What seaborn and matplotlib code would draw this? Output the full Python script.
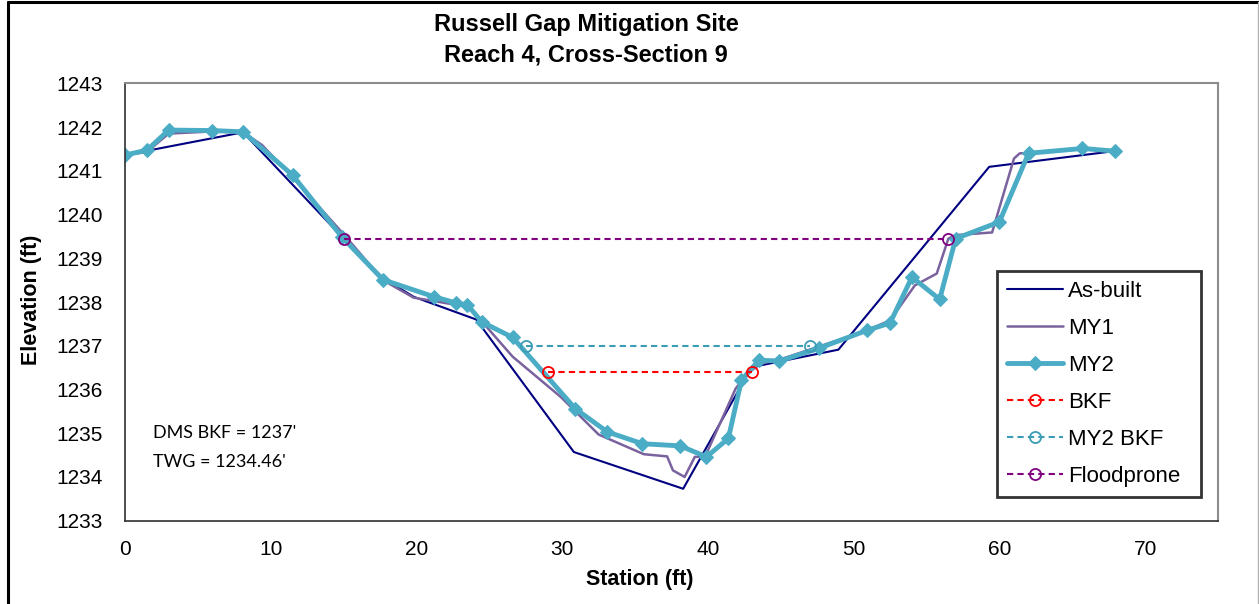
import matplotlib
matplotlib.use("Agg")
import matplotlib.pyplot as plt
import seaborn as sns
import pandas as pd
from matplotlib.lines import Line2D

# ---- data ----
asbuilt_x = [0, 8.1, 15.0, 17.7, 19.8, 24.1, 30.8, 38.3, 43.0, 48.95, 59.3, 67.9]
asbuilt_y = [1241.36, 1241.88, 1239.45, 1238.55, 1238.12, 1237.60, 1234.57, 1233.73,
             1236.51, 1236.91, 1241.09, 1241.45]

my1_x = [0, 1.5, 3.0, 6.0, 8.1, 9.4, 11.5, 15.0, 17.7, 19.8, 23.5, 24.5, 26.6, 29.9,
         32.5, 35.6, 37.2, 37.6, 38.4, 39.1, 39.8, 41.9, 42.7, 43.6, 44.9, 47.6, 50.9,
         52.5, 54.2, 55.7, 56.5, 57.0, 59.5, 61.0, 61.4, 62.0, 65.7, 67.9]
my1_y = [1241.36, 1241.43, 1241.85, 1241.90, 1241.88, 1241.59, 1240.85, 1239.55, 1238.50,
         1238.10, 1237.89, 1237.55, 1236.75, 1235.83, 1234.97, 1234.52, 1234.47, 1234.15,
         1234.00, 1234.46, 1234.46, 1236.02, 1236.36, 1236.59, 1236.68, 1236.98, 1237.35,
         1237.58, 1238.38, 1238.65, 1239.45, 1239.53, 1239.59, 1241.28, 1241.40, 1241.40,
         1241.50, 1241.45]

my2_x = [0, 1.5, 3.0, 6.0, 8.1, 11.5, 14.9, 17.7, 21.2, 22.7, 23.5, 24.5, 26.6, 30.9,
         33.1, 35.5, 38.1, 39.9, 41.4, 42.3, 43.5, 44.9, 47.6, 50.9, 52.5, 54.0, 55.9,
         57.0, 60.0, 62.0, 65.7, 67.9]
my2_y = [1241.36, 1241.47, 1241.93, 1241.92, 1241.89, 1240.90, 1239.48, 1238.51, 1238.12,
         1237.98, 1237.93, 1237.54, 1237.19, 1235.56, 1235.03, 1234.76, 1234.71, 1234.46,
         1234.88, 1236.21, 1236.67, 1236.65, 1236.94, 1237.35, 1237.52, 1238.57, 1238.06,
         1239.45, 1239.83, 1241.40, 1241.51, 1241.45]

bkf_x = [29.0, 43.0]
bkf_y = [1236.40, 1236.40]
my2bkf_x = [27.5, 47.0]
my2bkf_y = [1237.0, 1237.0]
flood_x = [15.0, 56.5]
flood_y = [1239.45, 1239.45]

x_ticks = [0, 10, 20, 30, 40, 50, 60, 70]
y_ticks = list(range(1233, 1244))

title_text = "Russell Gap Mitigation Site\nReach 4, Cross-Section 9"
xlabel_text = "Station (ft)"
ylabel_text = "Elevation (ft)"
note_lines = ["DMS BKF = 1237'", "TWG = 1234.46'"]

# ---- style ----
sns.set_style("white")
plt.rcParams['font.family'] = ['Liberation Sans', 'DejaVu Sans']
plt.rcParams['text.color'] = 'black'

W, H = 1259, 604
fig = plt.figure(figsize=(W / 100, H / 100), dpi=100)
L, R, T, B = 125, 1218, 83.3, 520.7
ax = fig.add_axes([L / W, 1 - B / H, (R - L) / W, (B - T) / H])

dash = (0, (3, 2))
sns.lineplot(x=asbuilt_x, y=asbuilt_y, ax=ax, color="#000080", lw=1.5,
             estimator=None, sort=False, label="As-built")
sns.lineplot(x=my1_x, y=my1_y, ax=ax, color="#7A629E", lw=1.8,
             estimator=None, sort=False, label="MY1")
sns.lineplot(x=my2_x, y=my2_y, ax=ax, color="#4BACC6", lw=3.5, marker="D",
             markersize=7, markeredgecolor="#4BACC6", markerfacecolor="#4BACC6",
             estimator=None, sort=False, label="MY2")
sns.lineplot(x=bkf_x, y=bkf_y, ax=ax, color="#FF0000", lw=1.5, linestyle=dash,
             marker="o", markersize=8, markerfacecolor="none", markeredgecolor="#FF0000",
             markeredgewidth=1.3, estimator=None, sort=False, label="BKF")
sns.lineplot(x=my2bkf_x, y=my2bkf_y, ax=ax, color="#3B9DB5", lw=1.5, linestyle=dash,
             marker="o", markersize=8, markerfacecolor="none", markeredgecolor="#3B9DB5",
             markeredgewidth=1.3, estimator=None, sort=False, label="MY2 BKF")
sns.lineplot(x=flood_x, y=flood_y, ax=ax, color="#800080", lw=1.5, linestyle=dash,
             marker="o", markersize=8, markerfacecolor="none", markeredgecolor="#800080",
             markeredgewidth=1.3, estimator=None, sort=False, label="Floodprone")

ax.set_xlim(0, 75)
ax.set_ylim(1233, 1243)
ax.set_xticks(x_ticks)
ax.set_yticks(y_ticks)
ax.tick_params(axis="both", which="major", direction="out", length=5, width=1,
               color="#404040", labelsize=15, labelcolor="black")
ax.tick_params(axis="y", pad=11)
ax.tick_params(axis="x", pad=9)
ax.yaxis.set_major_formatter(matplotlib.ticker.FormatStrFormatter("%d"))

for s in ["left", "bottom"]:
    ax.spines[s].set_color("#303030")
    ax.spines[s].set_linewidth(1.2)
for s in ["top", "right"]:
    ax.spines[s].set_color("#8c8c8c")
    ax.spines[s].set_linewidth(1.5)

ax.set_xlabel("")
ax.set_ylabel("")

# Titles / axis labels
fig.text(586 / W, 1 - 40 / H, title_text, ha="center", va="center", color="black",
         fontsize=17, fontweight="bold", linespacing=1.4)
fig.text(640 / W, 1 - 580 / H, xlabel_text, ha="center", va="center", color="black",
         fontsize=15.5, fontweight="bold")
fig.text(32 / W, 1 - 300 / H, ylabel_text, ha="center", va="center", color="black",
         fontsize=15.5, fontweight="bold", rotation=90)

# Notes
fig.text(153 / W, 1 - 433 / H, note_lines[0], ha="left", va="center", color="black",
         fontsize=13, family=["Lato", "DejaVu Sans"])
fig.text(153 / W, 1 - 462 / H, note_lines[1], ha="left", va="center", color="black",
         fontsize=13, family=["Lato", "DejaVu Sans"])

# Legend
lx0, ly0, lx1, ly1 = 997, 271, 1201, 495
leg = ax.legend(loc="upper left",
                bbox_to_anchor=(lx0 / W, 1 - ly1 / H, (lx1 - lx0) / W, (ly1 - ly0) / H),
                bbox_transform=fig.transFigure, mode="expand", borderaxespad=0,
                frameon=True, fancybox=False, fontsize=16, handlelength=2.5,
                handletextpad=0.25, labelspacing=0.72, borderpad=0.45)
leg.get_frame().set_edgecolor("black")
leg.get_frame().set_linewidth(2.0)
for t in leg.get_texts():
    t.set_color("black")

# Chart border
fig.add_artist(Line2D([8 / W, 8 / W], [0, 1 - 2 / H], transform=fig.transFigure,
                      color="black", lw=2.2))
fig.add_artist(Line2D([8 / W, 1], [1 - 2 / H, 1 - 2 / H], transform=fig.transFigure,
                      color="black", lw=2.2))
fig.add_artist(Line2D([1257.5 / W, 1257.5 / W], [0, 1 - 2 / H], transform=fig.transFigure,
                      color="#b0b0b0", lw=1.0))

fig.savefig("out.png", dpi=100)
